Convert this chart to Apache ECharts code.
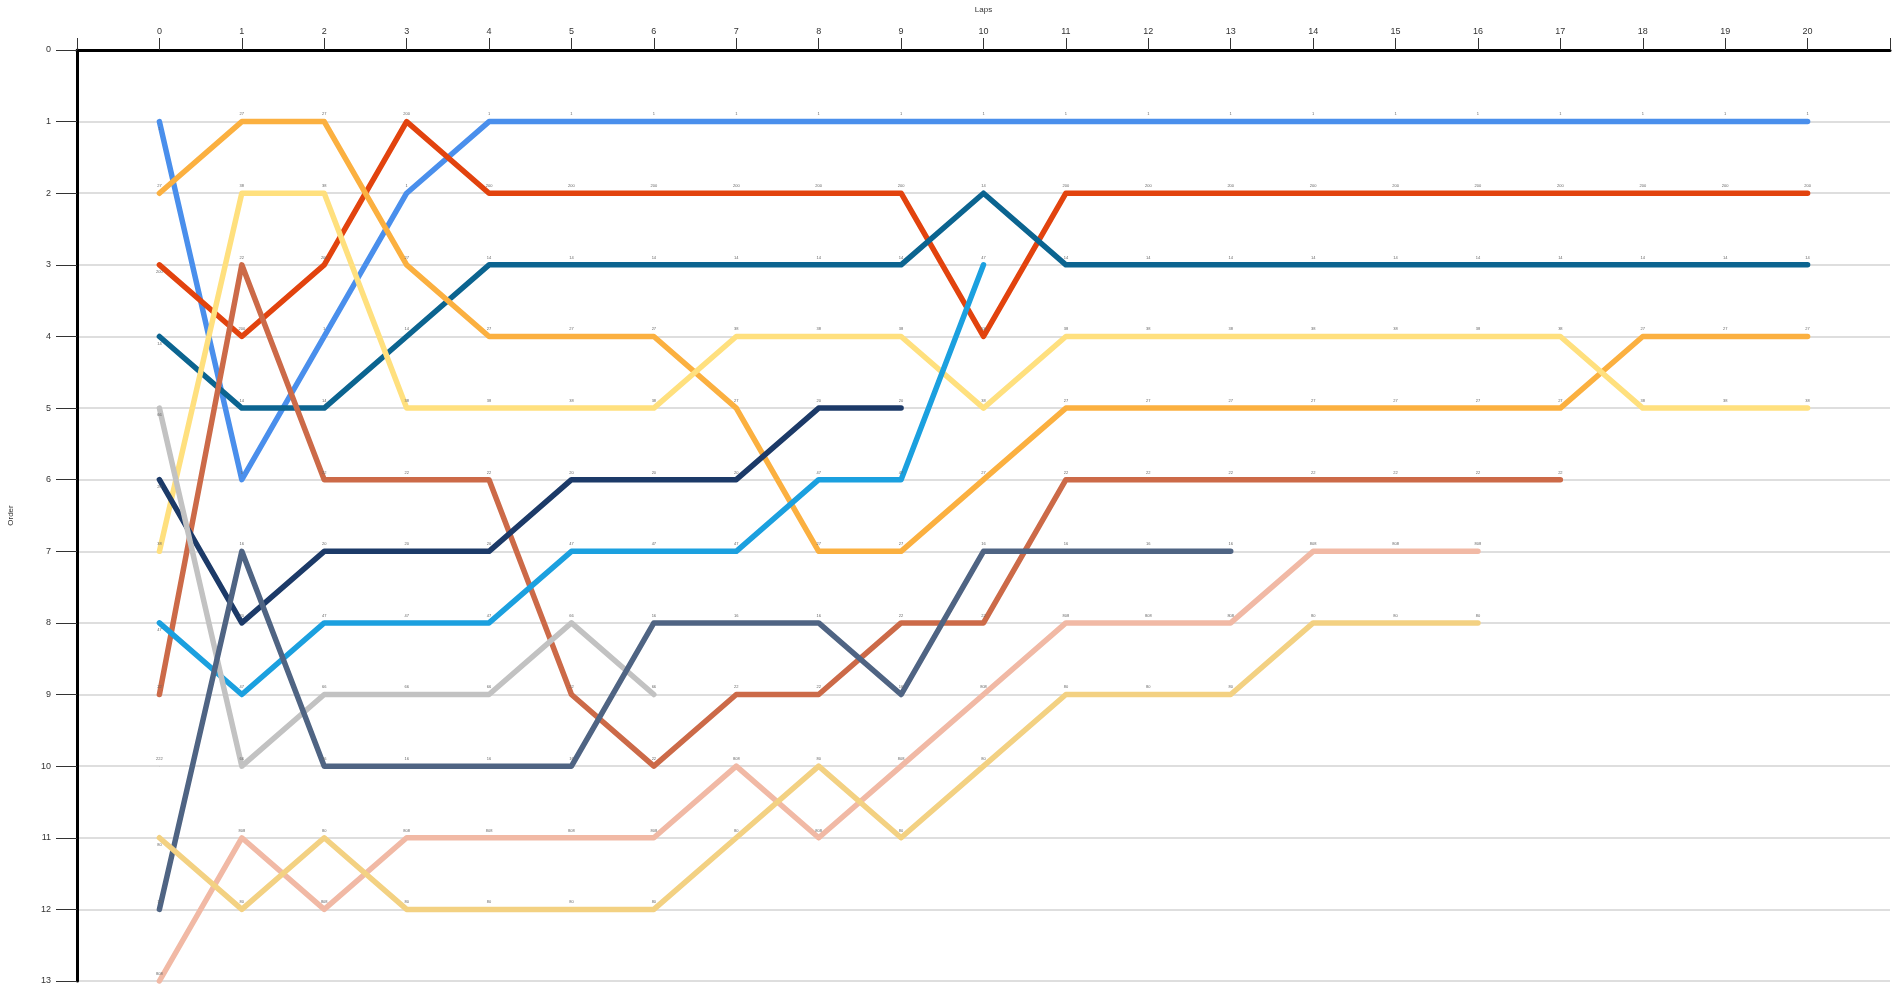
<!DOCTYPE html>
<html>
<head>
<meta charset="utf-8">
<title>Laps / Order</title>
<script src="https://cdn.jsdelivr.net/npm/echarts@6/dist/echarts.min.js"></script>
<style>
  html, body { margin: 0; padding: 0; background: #ffffff; }
  #chart { width: 1902px; height: 986px; }
</style>
</head>
<body>
<div id="chart"></div>
<script>
// Running order of each car, one value per lap (lap 0 = grid)
const lapTicks = [0, 1, 2, 3, 4, 5, 6, 7, 8, 9, 10, 11, 12, 13, 14, 15, 16, 17, 18, 19, 20];
const orderTicks = [0, 1, 2, 3, 4, 5, 6, 7, 8, 9, 10, 11, 12, 13];

const car1   = [1, 6, 4, 2, 1, 1, 1, 1, 1, 1, 1, 1, 1, 1, 1, 1, 1, 1, 1, 1, 1];
const car200 = [3, 4, 3, 1, 2, 2, 2, 2, 2, 2, 4, 2, 2, 2, 2, 2, 2, 2, 2, 2, 2];
const car14  = [4, 5, 5, 4, 3, 3, 3, 3, 3, 3, 2, 3, 3, 3, 3, 3, 3, 3, 3, 3, 3];
const car27  = [2, 1, 1, 3, 4, 4, 4, 5, 7, 7, 6, 5, 5, 5, 5, 5, 5, 5, 4, 4, 4];
const car38  = [7, 2, 2, 5, 5, 5, 5, 4, 4, 4, 5, 4, 4, 4, 4, 4, 4, 4, 5, 5, 5];
const car22  = [9, 3, 6, 6, 6, 9, 10, 9, 9, 8, 8, 6, 6, 6, 6, 6, 6, 6];
const car20  = [6, 8, 7, 7, 7, 6, 6, 6, 5, 5];
const car47  = [8, 9, 8, 8, 8, 7, 7, 7, 6, 6, 3];
const car66  = [5, 10, 9, 9, 9, 8, 9];
const car16  = [12, 7, 10, 10, 10, 10, 8, 8, 8, 9, 7, 7, 7, 7];
const car808 = [13, 11, 12, 11, 11, 11, 11, 10, 11, 10, 9, 8, 8, 8, 7, 7, 7];
const car80  = [11, 12, 11, 12, 12, 12, 12, 11, 10, 11, 10, 9, 9, 9, 8, 8, 8];
const car222 = [10];

const carNames = ['1', '200', '14', '27', '38', '22', '20', '47', '66', '16', '808', '80', '222'];
const carOrders = [car1, car200, car14, car27, car38, car22, car20, car47, car66, car16, car808, car80, car222];
const carColors = ['#4a8fec', '#e2430e', '#0b6490', '#fbb040', '#ffe07e', '#cc6a48',
                   '#1c3a68', '#1ba0df', '#c2c2c2', '#4f6483', '#f1b9a5', '#f3d182', '#9a9a9a'];

const chart = echarts.init(document.getElementById('chart'), null, { renderer: 'canvas' });

const series = carOrders.map((orders, k) => ({
  name: carNames[k],
  type: 'line',
  data: orders.map((v, lap) => {
    const item = { value: [lapTicks[lap], v] };
    if (lap === 0) {
      // start label sits on the side away from where the line heads
      const heading = orders.length > 1 ? orders[1] - v : -1;
      item.label = { position: heading > 0 ? 'bottom' : 'top' };
    }
    return item;
  }),
  showSymbol: true,
  showAllSymbol: true,
  symbol: 'circle',
  symbolSize: 0.5,
  itemStyle: { color: carColors[k] },
  color: carColors[k],
  lineStyle: { width: 5.5, color: carColors[k], cap: 'round', join: 'round' },
  label: {
    show: true,
    position: 'top',
    distance: 5,
    formatter: carNames[k],
    fontSize: 4,
    color: '#666',
    fontFamily: 'Liberation Sans, Arial, sans-serif'
  },
  labelLayout: { hideOverlap: false },
  emphasis: { disabled: true },
  animation: false,
  z: 3
}));

chart.setOption({
  backgroundColor: '#ffffff',
  animation: false,
  grid: { left: 77, right: 12, top: 50, bottom: 5, containLabel: false, outerBoundsMode: 'none' },
  xAxis: {
    type: 'value',
    position: 'top',
    min: -1,
    max: 21,
    interval: 1,
    name: 'Laps',
    nameLocation: 'middle',
    nameGap: 36,
    nameTextStyle: { fontSize: 8, color: '#333', fontFamily: 'Liberation Sans, Arial, sans-serif' },
    axisLine: { show: true, onZero: false, lineStyle: { color: '#000', width: 3 } },
    axisTick: { show: true, length: 12, lineStyle: { color: '#333', width: 1 } },
    axisLabel: {
      fontSize: 9,
      color: '#333',
      margin: 14,
      fontFamily: 'Liberation Sans, Arial, sans-serif',
      formatter: v => (lapTicks.indexOf(v) >= 0 ? String(v) : '')
    },
    splitLine: { show: false }
  },
  yAxis: {
    type: 'value',
    inverse: true,
    min: 0,
    max: 13,
    interval: 1,
    name: 'Order',
    nameLocation: 'middle',
    nameGap: 62,
    nameRotate: 90,
    nameTextStyle: { fontSize: 8, color: '#333', fontFamily: 'Liberation Sans, Arial, sans-serif' },
    axisLine: { show: true, onZero: false, lineStyle: { color: '#000', width: 3 } },
    axisTick: { show: true, length: 21, lineStyle: { color: '#333', width: 1 } },
    axisLabel: {
      fontSize: 9,
      color: '#333',
      margin: 26,
      fontFamily: 'Liberation Sans, Arial, sans-serif',
      formatter: v => (orderTicks.indexOf(v) >= 0 ? String(v) : '')
    },
    splitLine: { show: true, lineStyle: { color: '#dedede', width: 2 } }
  },
  series: series
});
</script>
</body>
</html>
